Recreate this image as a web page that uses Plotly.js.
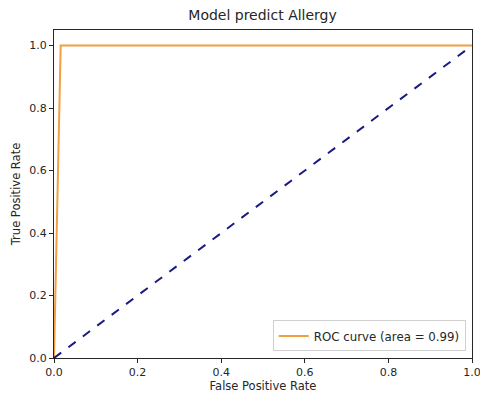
<!DOCTYPE html>
<html><head><meta charset="utf-8">
<script src="https://cdn.plot.ly/plotly-3.0.1.min.js"></script>
<style>html,body{margin:0;padding:0;background:#fff}#chart{width:480px;height:398px}</style>
</head><body><div id="chart"></div>
<script>
const fpr = [0, 0.016, 1];
const tpr = [0, 1, 1];
const diagX = [0, 1];
const diagY = [0, 1];
const rocLabel = 'ROC curve (area = 0.99)';
const xTicks = [0, 0.2, 0.4, 0.6, 0.8, 1.0];
const yTicks = [0, 0.2, 0.4, 0.6, 0.8, 1.0];
const tickText = ['0.0','0.2','0.4','0.6','0.8','1.0'];

const font = {family: 'DejaVu Sans', size: 11, color: '#262626'};
const axisCommon = {
  showgrid: false, zeroline: false, showline: true, linecolor: '#262626', linewidth: 1,
  mirror: true, ticks: 'outside', ticklen: 4, tickcolor: '#262626', tickfont: font,
  ticklabeloverflow: 'allow'
};
Plotly.newPlot('chart', [
  {x: fpr, y: tpr, mode: 'lines', name: rocLabel, line: {color: '#f0a040', width: 2}},
  {x: diagX, y: diagY, mode: 'lines', showlegend: false, line: {color: '#1a1a80', width: 2, dash: 'dash'}}
], {
  width: 480, height: 398,
  margin: {l: 54, r: 8, t: 30, b: 40},
  paper_bgcolor: '#fff', plot_bgcolor: '#fff',
  font: font,
  title: {text: 'Model predict Allergy', font: {family: 'DejaVu Sans', size: 14, color: '#262626'}, x: 0.547, xanchor: 'center', y: 0.975, yanchor: 'top'},
  xaxis: Object.assign({}, axisCommon, {range: [0, 1.00001], tickvals: xTicks, ticktext: tickText,
    title: {text: 'False Positive Rate', font: {family: 'DejaVu Sans', size: 11.5, color: '#262626'}, standoff: 3}}),
  yaxis: Object.assign({}, axisCommon, {range: [0, 1.05], tickvals: yTicks, ticktext: tickText,
    title: {text: 'True Positive Rate', font: {family: 'DejaVu Sans', size: 11.5, color: '#262626'}, standoff: 6}}),
  legend: {x: 0.985, y: 0.02, xanchor: 'right', yanchor: 'bottom', bgcolor: '#fff',
    bordercolor: '#d0d0d0', borderwidth: 1, font: {family: 'DejaVu Sans', size: 11.8, color: '#262626'}}
}, {displayModeBar: false, staticPlot: true});
</script></body></html>
